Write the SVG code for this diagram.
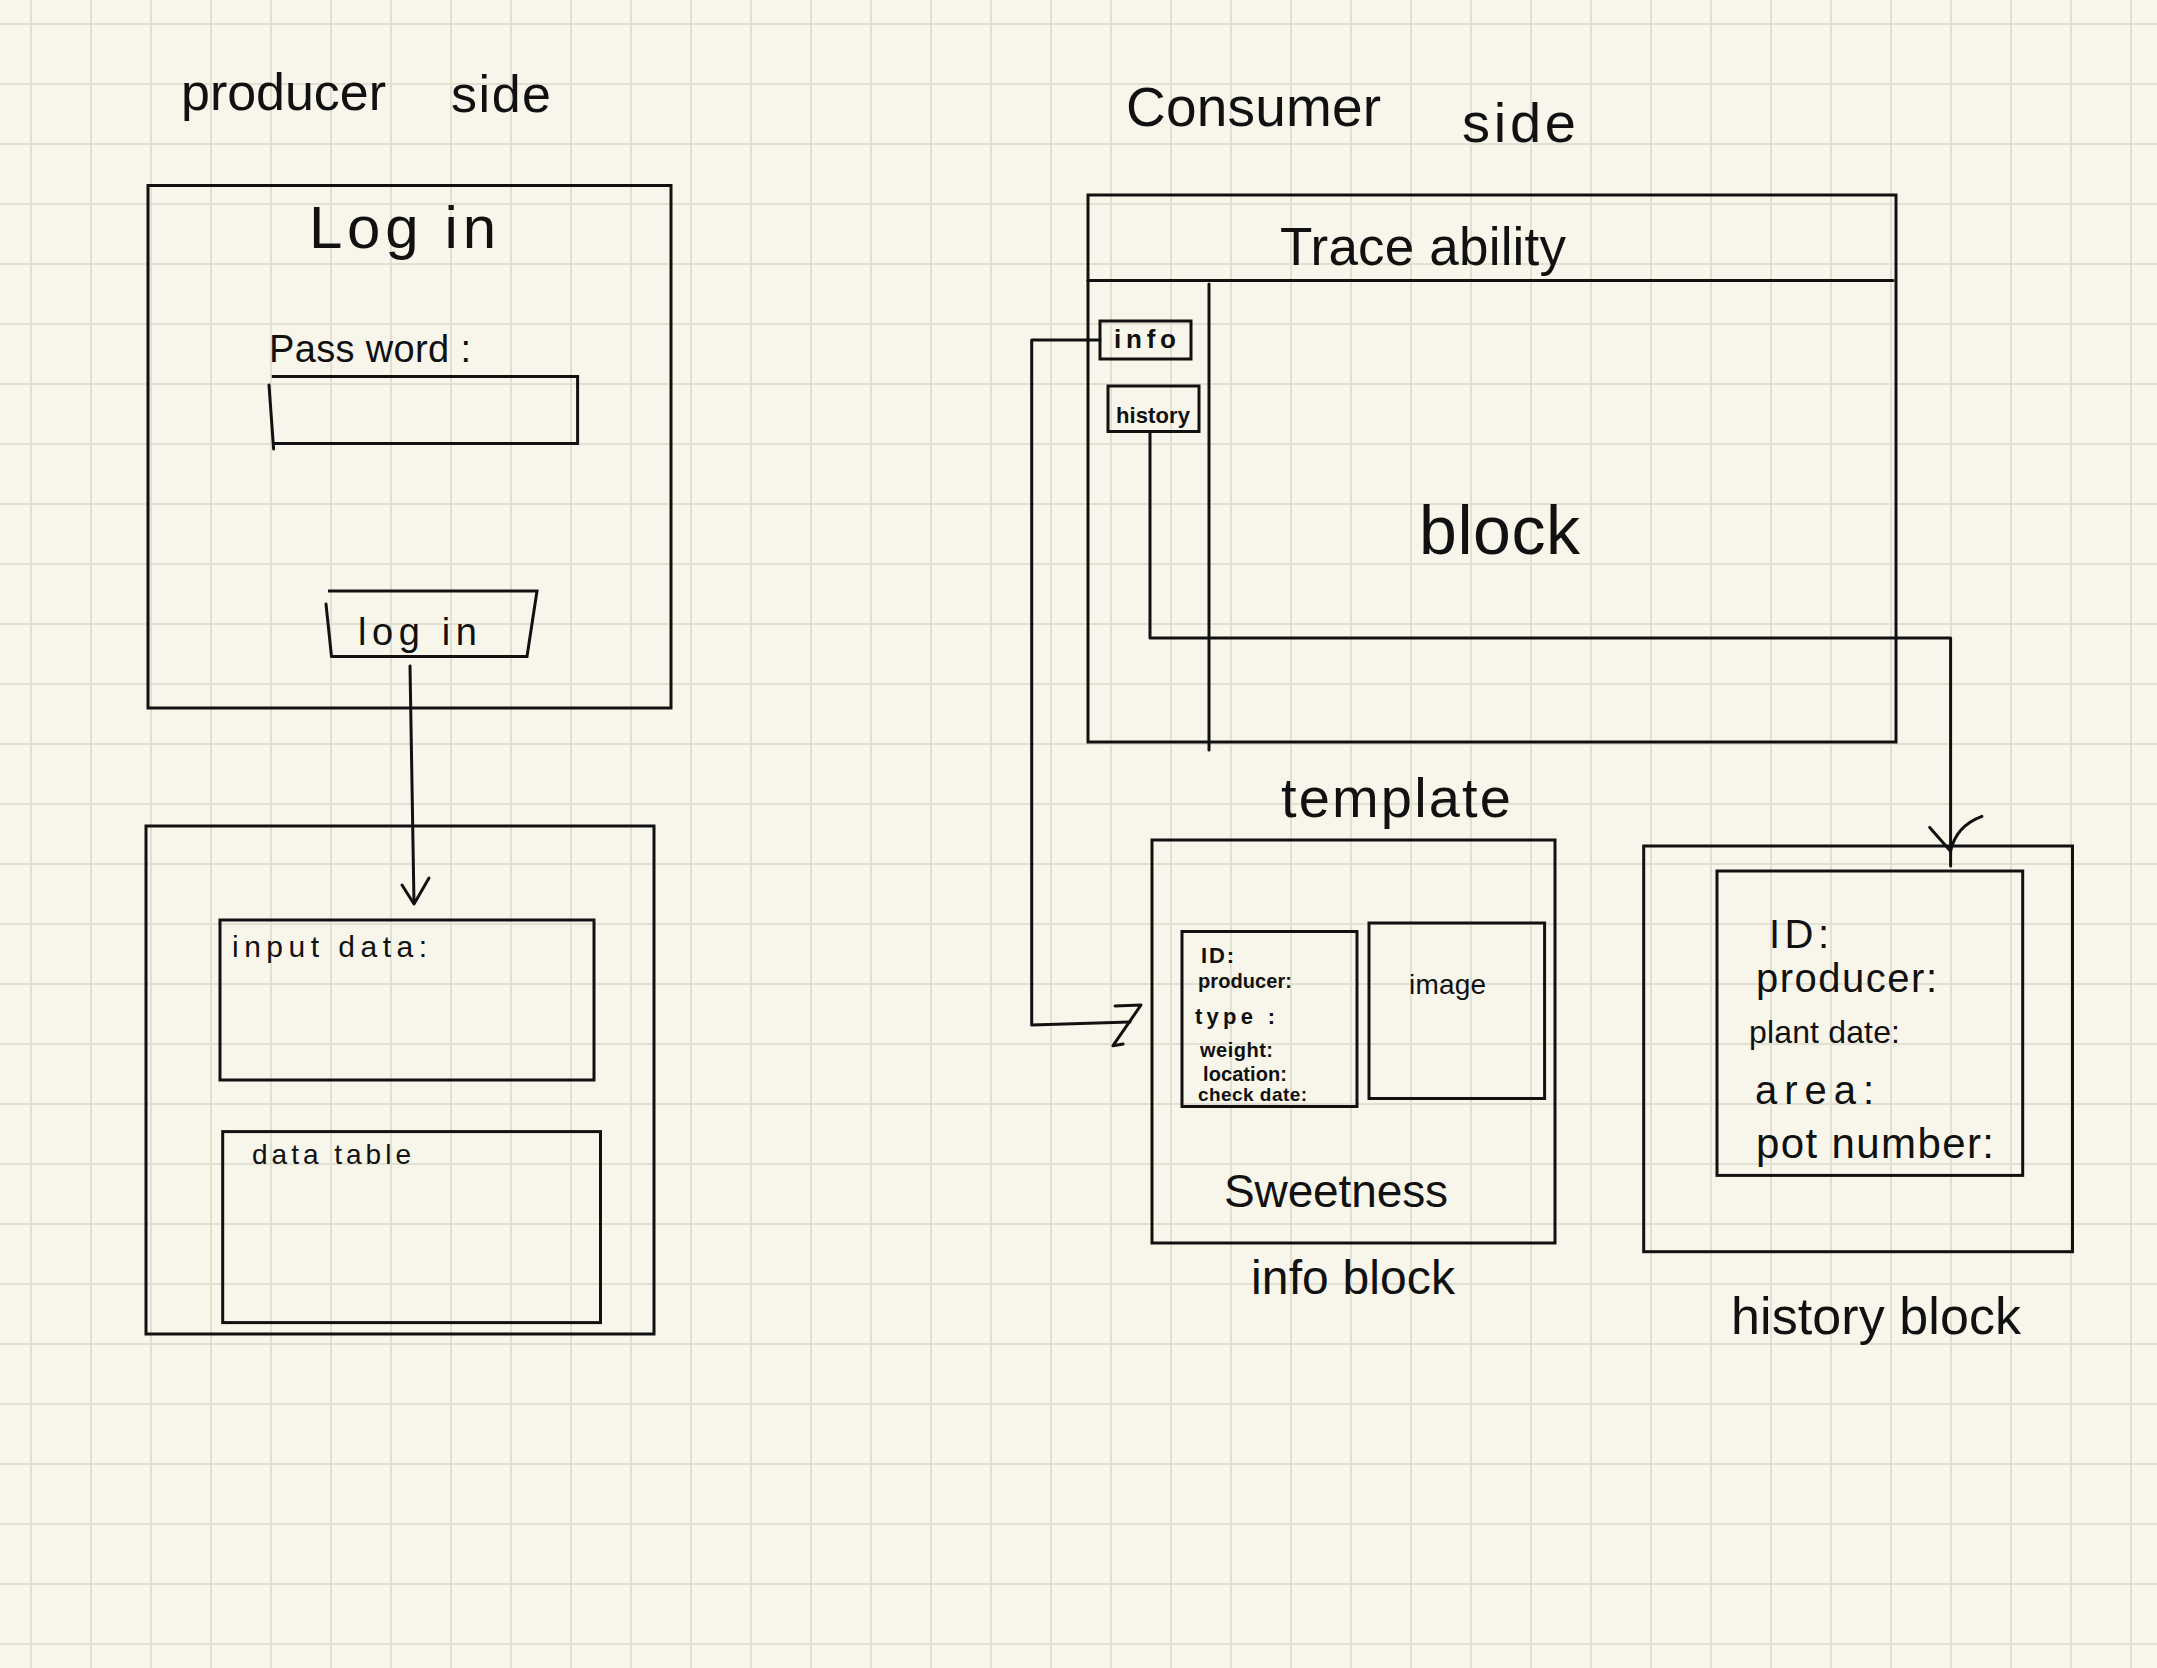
<svg xmlns="http://www.w3.org/2000/svg" width="2157" height="1668" viewBox="0 0 2157 1668">
  <defs>
    <!-- graph-paper grid, 60px cells -->
    <pattern id="grid" x="30" y="23" width="60" height="60" patternUnits="userSpaceOnUse">
      <rect x="0" y="0" width="2" height="60" fill="#e2dfd3"/>
      <rect x="0" y="0" width="60" height="2" fill="#e2dfd3"/>
    </pattern>
    <style>
      .box { fill: none; stroke: #111; stroke-width: 3; stroke-linejoin: miter; }
      .ln { fill: none; stroke: #111; stroke-width: 3; stroke-linecap: round; stroke-linejoin: round; }
      .t { fill: #111; font-family: "Liberation Sans", "DejaVu Sans", Arial, sans-serif; }
      .title { font-size: 52px; }
      .big { font-size: 60px; }
      .mid { font-size: 40px; }
      .sm { font-size: 30px; }
      .xs { font-size: 20px; font-weight: bold; }
    </style>
  </defs>

  <rect x="0" y="0" width="2157" height="1668" fill="#f8f6eb"/>
  <rect x="0" y="0" width="2157" height="1668" fill="url(#grid)"/>

  <!-- section titles -->
  <text class="t title" x="181" y="110" textLength="205">producer</text>
  <text class="t title" x="451" y="112" textLength="100">side</text>
  <text class="t title" x="1126" y="126" textLength="255" style="font-size:55px">Consumer</text>
  <text class="t title" x="1462" y="142" textLength="114" style="font-size:56px">side</text>

  <!-- producer: login page -->
  <g id="login-page">
    <rect class="box" x="148" y="185.5" width="523" height="522.5"/>
    <text class="t big" x="309" y="248" textLength="187">Log in</text>
    <text class="t mid" x="269" y="362" textLength="202" style="font-size:38px">Pass word :</text>
  </g>

  <g id="password-field">
    <path class="box" d="M271.8,376.5 H577.6 V443.5 H273.6"/>
    <path class="ln" d="M269,385 L273.6,449"/>
  </g>

  <g id="login-button">
    <path class="box" d="M328,591 H537 L527,656.6 H331.5"/>
    <path class="ln" d="M326,604 L331.5,656.6"/>
    <text class="t sm" x="358" y="645" textLength="119" style="font-size:38px">log in</text>
  </g>

  <!-- producer: data page -->
  <g id="data-page">
    <rect class="box" x="146" y="826" width="508" height="508"/>
  </g>
  <g id="input-data">
    <rect class="box" x="220" y="920" width="374" height="160"/>
    <text class="t sm" x="232" y="957" textLength="195">input  data:</text>
  </g>
  <g id="data-table">
    <rect class="box" x="222.7" y="1131.6" width="377.8" height="191"/>
    <text class="t sm" x="252" y="1164" textLength="159" style="font-size:28px">data  table</text>
  </g>

  <!-- consumer: traceability page -->
  <g id="traceability-page">
    <rect class="box" x="1088" y="195" width="808" height="547"/>
    <path class="ln" d="M1088,280.5 H1893"/>
    <path class="ln" d="M1209,284 V750"/>
    <text class="t big" x="1280" y="265" textLength="286" style="font-size:53px">Trace ability</text>
    <text class="t big" x="1419" y="554" textLength="161" style="font-size:68px">block</text>
  </g>
  <g id="info-button">
    <rect class="box" x="1100" y="321" width="91" height="38"/>
    <text class="t xs" x="1114" y="348" textLength="62" style="font-size:26px">info</text>
  </g>
  <g id="history-button">
    <rect class="box" x="1108" y="386" width="91" height="45.5"/>
    <text class="t xs" x="1116" y="423" textLength="74" style="font-size:22px">history</text>
  </g>

  <!-- consumer: info block template -->
  <g id="info-block">
    <rect class="box" x="1152" y="840" width="403" height="403"/>
    <text class="t title" x="1281" y="817" textLength="230" style="font-size:56px">template</text>
    <text class="t title" x="1224" y="1207" textLength="224" style="font-size:46px">Sweetness</text>
    <text class="t mid" x="1251" y="1294" textLength="204" style="font-size:48px">info block</text>
  </g>
  <g id="info-fields">
    <rect class="box" x="1182" y="931.5" width="175" height="175"/>
    <text class="t xs" x="1201" y="963" textLength="33" style="font-size:22px">ID:</text>
    <text class="t xs" x="1198" y="988" textLength="94">producer:</text>
    <text class="t xs" x="1195" y="1024" textLength="80" style="font-size:22px">type   :</text>
    <text class="t xs" x="1200" y="1057" textLength="73">weight:</text>
    <text class="t xs" x="1203" y="1081" textLength="84">location:</text>
    <text class="t xs" x="1198" y="1101" textLength="109" style="font-size:19px">check date:</text>
  </g>
  <g id="info-image">
    <rect class="box" x="1369" y="923" width="175.6" height="175.5"/>
    <text class="t sm" x="1409" y="994" textLength="77" style="font-size:28px">image</text>
  </g>

  <!-- consumer: history block -->
  <g id="history-block">
    <rect class="box" x="1643.7" y="846" width="428.8" height="405.7"/>
    <text class="t title" x="1731" y="1334" textLength="290">history block</text>
  </g>
  <g id="history-fields">
    <rect class="box" x="1717" y="871" width="305.7" height="304.4"/>
    <text class="t mid" x="1769" y="948" textLength="60">ID:</text>
    <text class="t mid" x="1756" y="992" textLength="181">producer:</text>
    <text class="t mid" x="1749" y="1043" textLength="151" style="font-size:32px">plant date:</text>
    <text class="t mid" x="1755" y="1104" textLength="119">area:</text>
    <text class="t mid" x="1756" y="1158" textLength="238" style="font-size:42px">pot number:</text>
  </g>

  <!-- connectors -->
  <g id="connectors">
    <!-- login button -> data page -->
    <path class="ln" d="M410,666 L414,903"/>
    <path class="ln" d="M402,885 L414,904 L429,878"/>
    <!-- info button -> info block -->
    <path class="ln" d="M1100,340 H1031.7 V1025 L1130,1022"/>
    <path class="ln" d="M1115,1006 L1141,1005 L1113,1045.7 L1123,1044"/>
    <!-- history button -> history block -->
    <path class="ln" d="M1150,431.5 V638 H1950.6 V866"/>
    <path class="ln" d="M1929.7,827.4 L1950.6,851.2 Q1956,826 1981.9,816.4"/>
  </g>
</svg>
